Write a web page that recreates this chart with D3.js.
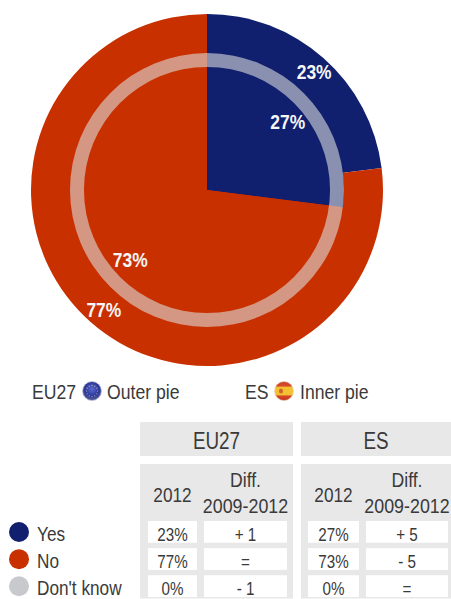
<!DOCTYPE html>
<html>
<head>
<meta charset="utf-8">
<script src="https://cdn.jsdelivr.net/npm/d3@7/dist/d3.min.js"></script>
<style>
html,body{margin:0;padding:0;background:#fff}
svg{display:block}
text{font-family:"Liberation Sans",Arial,sans-serif}
</style>
</head>
<body>
<svg id="chart" width="451" height="599"></svg>
<script>
const answers = ["Yes", "No", "Don't know"];
const answerColors = ["#101f6e", "#c93000", "#c8c9cc"];
const outerValues = [23, 77, 0];
const innerValues = [27, 73, 0];
const outerDiff = ["+ 1", "=", "- 1"];
const innerDiff = ["+ 5", "- 5", "="];
const groups = ["EU27", "ES"];
const yearLabel = "2012";
const diffLabel = ["Diff.", "2009-2012"];

const svg = d3.select("#chart");
const textColor = "#3a3a3a";
const panelColor = "#e8e8e8";

// Writes condensed text around its anchor
function label(parent, x, y, str, size, opts = {}) {
  return parent.append("text")
    .attr("transform", `translate(${x},${y}) scale(${opts.sx || 0.84},1)`)
    .attr("text-anchor", opts.anchor || "middle")
    .attr("font-size", size)
    .attr("font-weight", opts.weight || "normal")
    .attr("fill", opts.fill || textColor)
    .text(str);
}

// Concentric pies
const cx = 207, cy = 190;
const pieGen = d3.pie().sort(null).value(d => d);
const pies = svg.append("g").attr("transform", `translate(${cx},${cy})`);

function drawPie(values, radius, labelRadius) {
  const arcs = pieGen(values);
  const shape = d3.arc().innerRadius(0).outerRadius(radius);
  const textArc = d3.arc().innerRadius(labelRadius).outerRadius(labelRadius);
  pies.append("g").selectAll("path").data(arcs).join("path")
    .attr("d", shape)
    .attr("fill", (d, i) => answerColors[i]);
  return arcs.filter(d => d.value > 0).map(d => ({value: d.value, pos: textArc.centroid(d)}));
}

const outerLabels = drawPie(outerValues, 176, 159);
const innerLabels = drawPie(innerValues, 137, 105);

// Translucent ring separating the inner pie from the outer one
pies.append("path")
  .attr("d", d3.arc().innerRadius(123).outerRadius(137).startAngle(0).endAngle(2 * Math.PI)())
  .attr("fill", "#dcdcdc")
  .attr("fill-opacity", 0.6);

outerLabels.concat(innerLabels).forEach(d => {
  label(pies, d.pos[0] + 2, d.pos[1] + 8, d.value + "%", 21, {weight: "bold", fill: "#f6f6f6", sx: 0.83});
});

// Caption with the two round flags
const defs = svg.append("defs");
const euGrad = defs.append("radialGradient").attr("id", "euFlag").attr("cy", "0.4");
euGrad.append("stop").attr("offset", "0").attr("stop-color", "#5a6ad0");
euGrad.append("stop").attr("offset", "0.75").attr("stop-color", "#2a3598");
euGrad.append("stop").attr("offset", "1").attr("stop-color", "#4a5098");
const esGrad = defs.append("linearGradient").attr("id", "esFlag").attr("x2", 0).attr("y2", 1);
[[0, "#d0402a"], [0.24, "#d8482a"], [0.3, "#f2c030"], [0.7, "#f2c030"], [0.76, "#d8482a"], [1, "#c03018"]]
  .forEach(s => esGrad.append("stop").attr("offset", s[0]).attr("stop-color", s[1]));

const starAngle = d3.scaleLinear().domain([0, 12]).range([0, 2 * Math.PI]);
const euFlag = svg.append("g").attr("transform", "translate(92,391)");
euFlag.append("circle").attr("r", 9.5).attr("fill", "url(#euFlag)").attr("stroke", "#c4c6d8").attr("stroke-width", 0.8);
euFlag.selectAll("circle.star").data(d3.range(12)).join("circle")
  .attr("class", "star")
  .attr("cx", d => 5.6 * Math.cos(starAngle(d)))
  .attr("cy", d => 5.6 * Math.sin(starAngle(d)))
  .attr("r", 0.6)
  .attr("fill", "#b8b8b0");

const esFlag = svg.append("g").attr("transform", "translate(284,391)");
esFlag.append("circle").attr("r", 9.5).attr("fill", "url(#esFlag)").attr("stroke", "#e4d4b8").attr("stroke-width", 0.6);
esFlag.append("ellipse").attr("cx", -3).attr("cy", 0).attr("rx", 2).attr("ry", 2.6).attr("fill", "#d0602a");

label(svg, 32, 399, "EU27", 21, {anchor: "start"});
label(svg, 107, 399, "Outer pie", 21, {anchor: "start"});
label(svg, 245, 399, "ES", 21, {anchor: "start"});
label(svg, 300, 399, "Inner pie", 21, {anchor: "start"});

// Summary table
const tableRow = d3.scaleBand().domain(answers).range([521, 597]).paddingInner(0.2).paddingOuter(0);
const columnSets = [
  {left: 140, right: 293, year: [148, 197], diff: [204, 287], values: outerValues, diffs: outerDiff},
  {left: 301, right: 451, year: [308, 359], diff: [366, 448], values: innerValues, diffs: innerDiff}
];

columnSets.forEach((c, gi) => {
  svg.append("rect").attr("x", c.left).attr("y", 422).attr("width", c.right - c.left).attr("height", 34).attr("fill", panelColor);
  svg.append("rect").attr("x", c.left).attr("y", 464).attr("width", c.right - c.left).attr("height", 134.5).attr("fill", panelColor);
  label(svg, (c.left + c.right) / 2, 449, groups[gi], 23, {sx: 0.82});
  label(svg, (c.year[0] + c.year[1]) / 2, 502, yearLabel, 21, {sx: 0.82});
  label(svg, (c.diff[0] + c.diff[1]) / 2, 487, diffLabel[0], 21);
  label(svg, (c.diff[0] + c.diff[1]) / 2, 513, diffLabel[1], 21, {sx: 0.85});
  answers.forEach((a, i) => {
    const y = tableRow(a), h = tableRow.bandwidth();
    svg.append("rect").attr("x", c.year[0]).attr("y", y).attr("width", c.year[1] - c.year[0]).attr("height", h).attr("fill", "#fff");
    svg.append("rect").attr("x", c.diff[0]).attr("y", y).attr("width", c.diff[1] - c.diff[0]).attr("height", h).attr("fill", "#fff");
    label(svg, (c.year[0] + c.year[1]) / 2, y + 20, c.values[i] + "%", 19, {sx: 0.8});
    label(svg, (c.diff[0] + c.diff[1]) / 2, y + 20, c.diffs[i], 19, {sx: 0.8});
  });
});

// Legend
answers.forEach((a, i) => {
  const y = tableRow(a) + 11;
  svg.append("circle").attr("cx", 19).attr("cy", y).attr("r", 10).attr("fill", answerColors[i]);
  label(svg, 37, y + 8.5, a, 21, {anchor: "start", sx: 0.82});
});
</script>
</body>
</html>
